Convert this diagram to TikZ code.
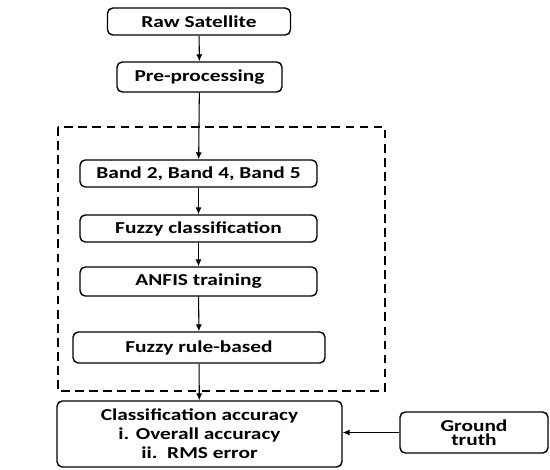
\documentclass[tikz,border=0pt]{standalone}
\usepackage{fontspec}
\setmainfont{Carlito}[FakeStretch=1.28]
\usetikzlibrary{arrows.meta}
\tikzset{
  stage/.style={draw, line width=0.8pt, rounded corners=3pt, align=center,
    font=\bfseries\fontsize{9.5}{10.8}\selectfont, inner sep=2pt},
  flow/.style={-{Latex[length=4pt,width=3.5pt]}, line width=0.6pt}
}
\begin{document}
\begin{tikzpicture}
\useasboundingbox (0,0) rectangle (11,-9.38);
% processing steps
\node[stage, minimum width=3.66cm, minimum height=0.54cm] (raw) at (3.98,-0.43) {Raw Satellite};
\node[stage, minimum width=3.3cm, minimum height=0.6cm] (pre) at (3.99,-1.54) {Pre-processing};
\node[stage, minimum width=4.74cm, minimum height=0.54cm] (band) at (3.97,-3.47) {Band 2, Band 4, Band 5};
\node[stage, minimum width=4.74cm, minimum height=0.54cm] (fuzzy) at (3.97,-4.57) {Fuzzy classification};
\node[stage, minimum width=4.74cm, minimum height=0.58cm] (anfis) at (3.97,-5.63) {ANFIS training};
\node[stage, minimum width=5.04cm, minimum height=0.62cm] (rule) at (3.98,-6.95) {Fuzzy rule-based};
\node[stage, minimum width=5.7cm, minimum height=1.32cm] (acc) at (3.99,-8.68)
  {Classification accuracy\\i. Overall accuracy\\ii.\ \ RMS error};
\node[stage, minimum width=2.96cm, minimum height=0.82cm] (ground) at (9.48,-8.65) {Ground\\[-2.5pt]truth};
% fuzzy part
\draw[dashed, line width=1.1pt, dash pattern=on 5pt off 3pt] (1.16,-2.54) rectangle (7.7,-7.82);
\draw[flow] (raw) -- (pre);
\draw[flow] (pre) -- (band);
\draw[flow] (band) -- (fuzzy);
\draw[flow] (fuzzy) -- (anfis);
\draw[flow] (anfis) -- (rule);
\draw[flow] (rule) -- (acc);
\draw[flow] (ground.west) -- (acc.east |- ground.west);
\end{tikzpicture}
\end{document}
